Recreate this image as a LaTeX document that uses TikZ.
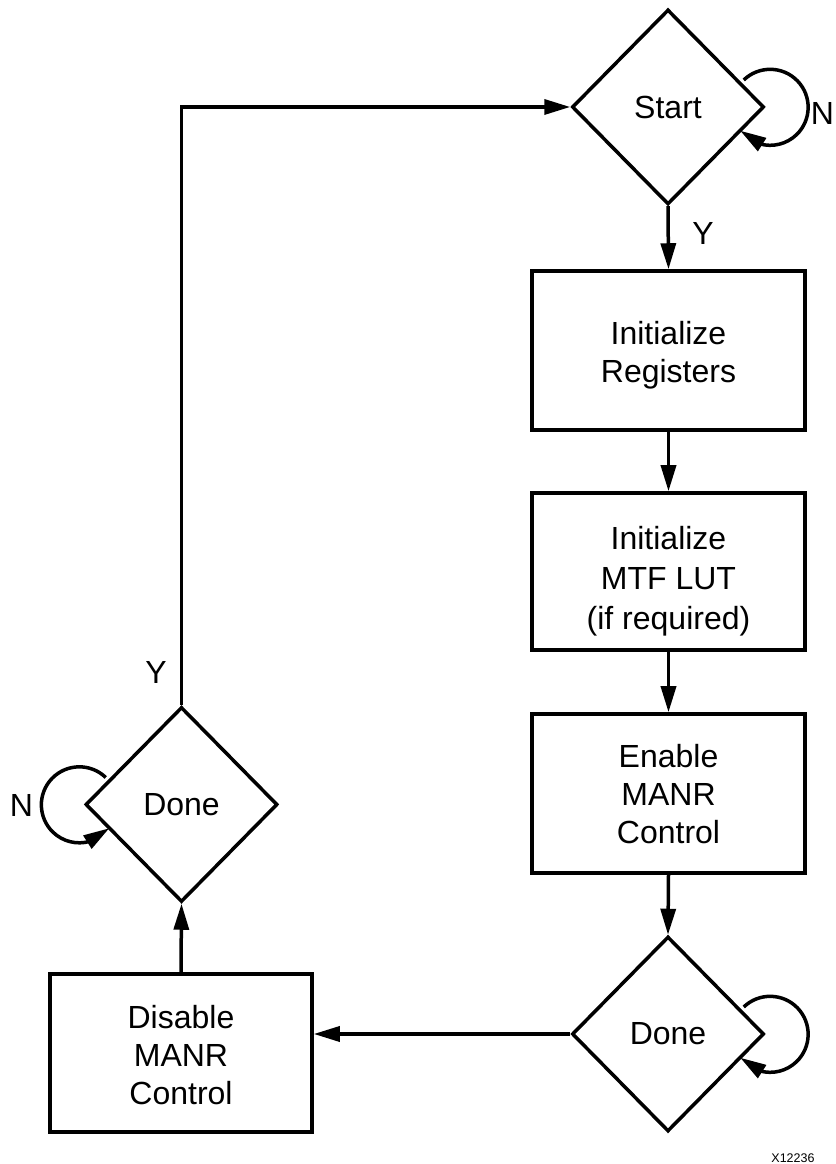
\documentclass[tikz,border=0pt]{standalone}
\usepackage{fontspec}
\setmainfont{Liberation Sans}
\usetikzlibrary{shapes.geometric,arrows.meta,bending,calc}
\newcommand{\topstrut}[1]{\rule{0pt}{#1pt}}
\begin{document}
\begin{tikzpicture}[x=1pt,y=1pt,
  line width=3.5pt,
  every node/.style={font=\fontsize{32}{38}\selectfont},
  box/.style={draw, rectangle, minimum width=273pt, minimum height=159pt, align=center, inner sep=0pt},
  dbox/.style={box, minimum width=262pt, minimum height=158pt},
  dia/.style={draw, diamond, minimum width=192pt, minimum height=195pt, inner sep=0pt},
  arr/.style={-{Triangle[length=26pt,width=15pt]}},
  lbl/.style={inner sep=0pt}]
\useasboundingbox (0,0) rectangle (835,1164);
\fill[white] (0,0) rectangle (835,1164);

\node[dia] (start) at (668,1057) {Start};
\node[box] (reg) at (668.5,813.5) {\topstrut{27}Initialize\\\smash{Registers}};
\node[box, font=\fontsize{32}{40}\selectfont, minimum height=157pt] (mtf) at (668.5,592.5) {\topstrut{36}Initialize\\MTF LUT\\\smash{(if required)}};
\node[box] (en) at (668.5,370.5) {\topstrut{25}Enable\\MANR\\Control};
\node[dia] (done1) at (668,130) {Done};
\node[dbox] (dis) at (181,111) {\topstrut{28}Disable\\MANR\\Control};
\node[dia] (done2) at (181.5,359.5) {Done};

\draw[arr] (start.south) -- (reg.north);
\draw[arr] (reg.south) -- (mtf.north);
\draw[arr] (mtf.south) -- (en.north);
\draw[arr] (en.south) -- (done1.north);
\draw[arr] (done1.west) -- (done1.west -| dis.east);
\draw[arr] (dis.north) -- (done2.south);
\draw[arr] (done2.north) |- (start.west);

\draw[arr] ($(start.east)+(-22,27)$) arc[start angle=134, end angle=-142, radius=38];
\draw[arr] ($(done1.east)+(-22,27)$) arc[start angle=134, end angle=-142, radius=38];
\draw[arr] ($(done2.west)+(22,27)$) arc[start angle=46, end angle=322, radius=38];

\node[lbl] (yr) at (703,930.5) {Y};
\node[lbl] (yl) at (156,492) {Y};
\node[lbl] (nr) at (822.5,1050.5) {N};
\node[lbl] (nl) at (21.5,359) {N};
\node[lbl, font=\fontsize{12.5}{15}\selectfont] (id) at (793,6) {X12236};
\end{tikzpicture}
\end{document}
